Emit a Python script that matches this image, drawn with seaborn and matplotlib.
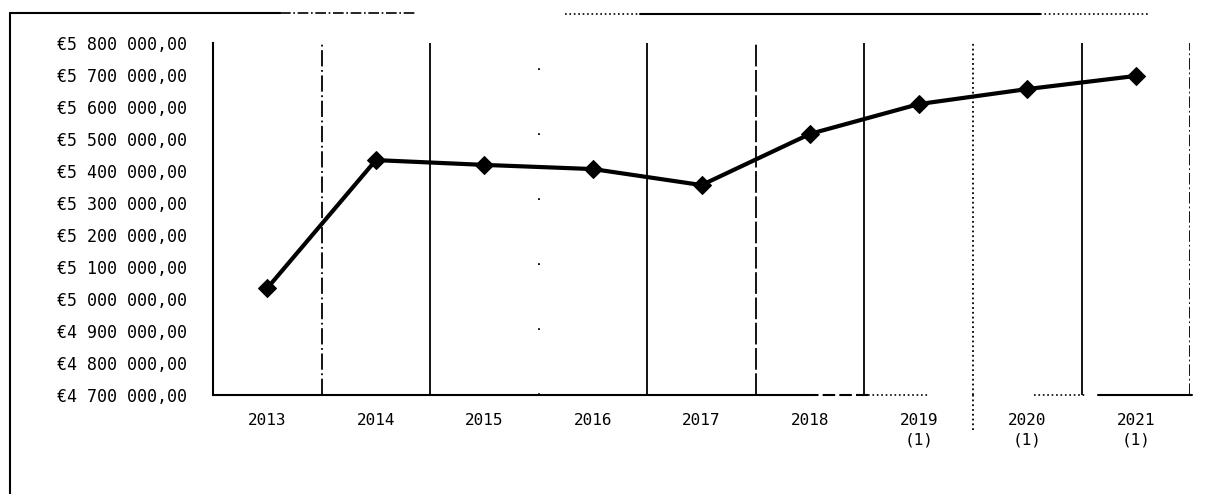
import pandas as pd
import matplotlib
matplotlib.use('Agg')
import matplotlib.pyplot as plt
import matplotlib.ticker as mticker
from matplotlib.lines import Line2D
import seaborn as sns

years = ['2013', '2014', '2015', '2016', '2017', '2018', '2019\n(1)', '2020\n(1)', '2021\n(1)']
values = [5034000, 5434000, 5419000, 5406000, 5356000, 5516000, 5609000, 5656000, 5697000]
y_ticks = [4700000 + 100000 * i for i in range(12)]

df = pd.DataFrame({'Ano': years, 'Valor': values})

sns.set_style('white')
plt.rcParams['font.family'] = ['DejaVu Sans Mono', 'DejaVu Sans']

fig = plt.figure(figsize=(12.07, 4.94), dpi=100)
ax = fig.add_axes([0.1765, 0.2004, 0.8095, 0.7126])

sns.lineplot(x='Ano', y='Valor', data=df, ax=ax, color='black', linewidth=3,
             marker='D', markersize=9, markeredgecolor='black', sort=False, zorder=5)


def euro(v, pos):
    s = f'{v:,.2f}'
    s = s.replace(',', ' ').replace('.', ',')
    return '€' + s


ax.set_ylim(4700000, 5800000)
ax.set_yticks(y_ticks)
ax.yaxis.set_major_formatter(mticker.FuncFormatter(euro))
ax.set_xlim(-0.5, 8.5)
ax.set_xticks(range(len(years)))
ax.set_xticklabels(years, fontsize=11.5, linespacing=1.35)
ax.grid(False)
ax.tick_params(axis='both', which='both', length=0, colors='black')
ax.tick_params(axis='y', labelsize=12, pad=19)
ax.tick_params(axis='x', pad=13)
ax.set_xlabel('')
ax.set_ylabel('')

# vertical separators between years (scan has them broken up)
styles = [(0, (9, 2, 1, 2)), '-', (0, (1, 35)), '-', (0, (12, 2)), '-', ':', '-', '-.']
for i, ls in enumerate(styles):
    ax.axvline(i + 0.5, color='black', linewidth=1.3, linestyle=ls, zorder=2)
# the 2019/2020 separator runs a little below the axis
ax.axvline(6.5, ymin=-0.1, ymax=0, color='black', linewidth=1.3, linestyle=':',
           clip_on=False)

for side in ['top', 'right', 'bottom']:
    ax.spines[side].set_visible(False)
ax.spines['left'].set_color('black')
ax.spines['left'].set_linewidth(1.5)

W, H = 1207, 494


def seg(x0, x1, y0, y1, ls='-', lw=1.5):
    fig.add_artist(Line2D([x0 / W, x1 / W], [1 - y0 / H, 1 - y1 / H],
                          color='black', lw=lw, ls=ls))


# bottom axis line, partly faded in the scan
seg(213, 806, 395, 395)
seg(806, 868, 395, 395, ls=(0, (6, 2)))
seg(868, 929, 395, 395, ls=':', lw=1.2)
seg(1034, 1086, 395, 395, ls=':', lw=1.2)
seg(1098, 1192, 395, 395)

# outer chart frame (left and top edges)
seg(10, 10, 13, 494)
seg(10, 280, 13, 13)
seg(280, 415, 13, 13, ls='-.', lw=1.2)
seg(565, 640, 14, 14, ls=':', lw=1.2)
seg(640, 1040, 14, 14)
seg(1040, 1148, 14, 14, ls=':', lw=1.2)

plt.savefig('out.png', dpi=100)
